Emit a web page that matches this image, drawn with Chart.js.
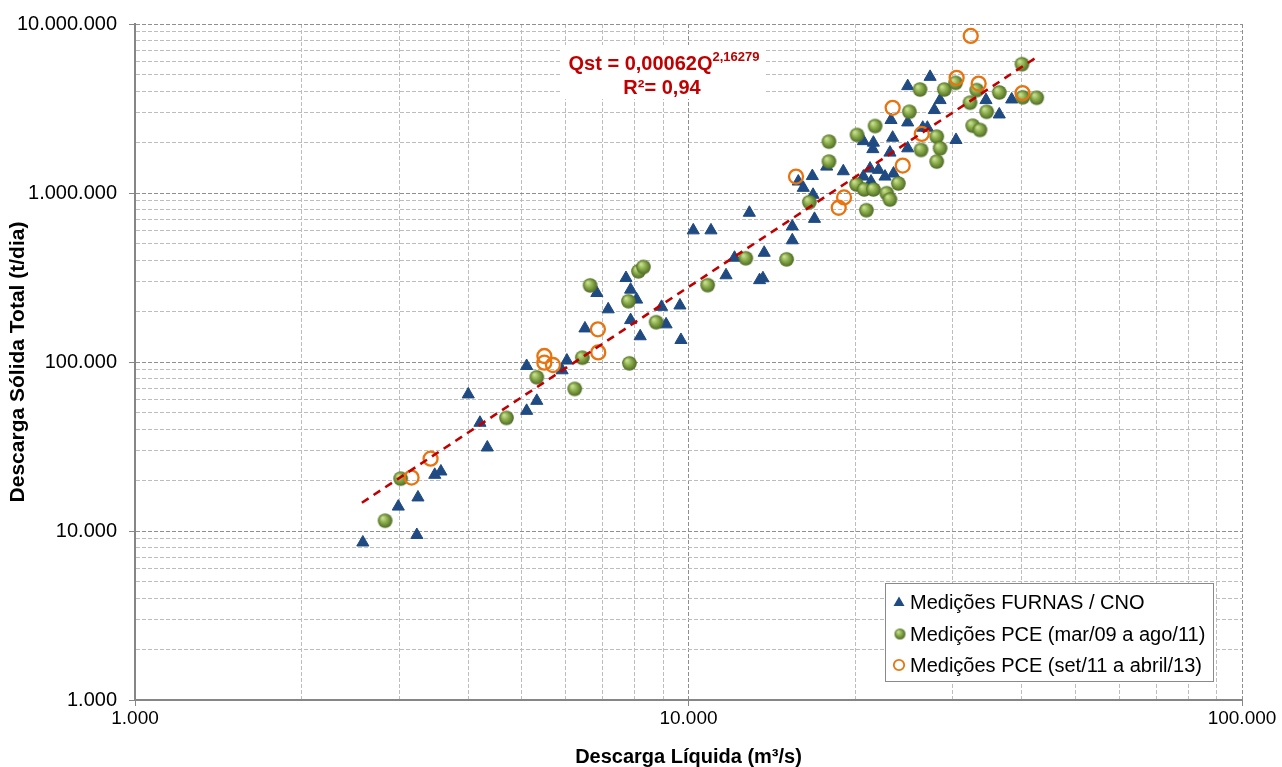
<!DOCTYPE html>
<html lang="pt-BR">
<head>
<meta charset="utf-8">
<title>Curva-chave de sedimentos</title>
<script src="https://cdn.jsdelivr.net/npm/chart.js@4.4.1/dist/chart.umd.min.js"></script>
<style>
  html, body { margin: 0; padding: 0; background: #fff; }
  #wrap { width: 1282px; height: 767px; }
</style>
</head>
<body>
<div id="wrap"><canvas id="curva" width="1282" height="767"></canvas></div>
<script>
// ── Medições FURNAS / CNO: Q (m³/s) x Qst (t/dia) ──
const furnasQ = [
  2580, 2990, 3230, 3245, 3480, 3570, 4000, 4200, 4330, 5100, 5320, 5100,
  6030, 5910, 6500, 6830, 7160, 7710, 7860, 8060, 7860, 8180, 8940, 9110,
  9650, 9690, 10200, 10980, 11690, 12110, 12880, 13440, 13630, 13700, 15400, 15400,
  16890, 16790, 16120, 15790, 16740, 17770, 19040, 20700, 21280, 22040, 21370, 22650,
  23460, 20700, 21580, 21530, 23380, 23220, 23120, 24890, 24890, 24890, 27320, 26500,
  27010, 27810, 28480, 30430, 34470, 36430, 38360
];
const furnasQst = [
  8550, 13950, 9470, 15800, 21500, 22500, 64300, 43700, 31200, 51400, 58900, 94700,
  102000, 89300, 158000, 256000, 205000, 314000, 268000, 234000, 177000, 142000, 212000, 167000,
  216000, 135000, 601000, 601000, 326000, 414000, 764000, 305000, 313000, 443000, 634000, 525000,
  703000, 976000, 1073000, 1169000, 1260000, 1433000, 1345000, 1251000, 1395000, 1371000, 1169000, 1251000,
  1303000, 2027000, 1986000, 1818000, 2125000, 2703000, 1734000, 2616000, 1838000, 4289000, 4867000, 2434000,
  2434000, 3096000, 3547000, 2060000, 3547000, 2916000, 3576000
];

// ── Medições PCE (mar/09 a ago/11) ──
const pceAQ = [
  2830, 3020, 4690, 5320, 6230, 6430, 7820, 6640, 7790, 8120, 8290, 8740,
  10830, 12690, 15040, 16530, 17940, 17940, 20160, 20120, 20770, 21580, 20960, 21730,
  22810, 23120, 23940, 25060, 26200, 28990, 30380, 33170, 36430, 32260, 34570, 32620,
  33620, 28080, 28480, 26310, 28080, 40040, 40160, 42570
];
const pceAQst = [
  11500, 20400, 46700, 81200, 69300, 106000, 98200, 284000, 229000, 344000, 365000, 172000,
  285000, 411000, 405000, 883000, 2013000, 1534000, 2205000, 1122000, 1049000, 1049000, 791000, 2491000,
  997000, 915000, 1138000, 3025000, 4096000, 4096000, 4486000, 4063000, 3933000, 3420000, 3025000, 2501000,
  2360000, 2154000, 1838000, 1798000, 1534000, 5783000, 3684000, 3659000
];

// ── Medições PCE (set/11 a abril/13) ──
const pceBQ = [
  3160, 3420, 5490, 5490, 5690, 6860, 6870, 15640, 19100, 18680, 23380, 24380,
  26390, 30510, 33440, 32350, 40130
];
const pceBQst = [
  20700, 26800, 108500, 99100, 96000, 156000, 114000, 1251000, 941000, 818000, 3193000, 1453000,
  2235000, 4800000, 4444000, 8495000, 3901000
];

// curva ajustada Qst = a·Q^b, traçada entre a menor e a maior vazão ajustada
const trendCoef = 0.00062;
const trendExp  = 2.16279;
const trendR2   = "0,94";
const trendQ    = [2570, 42300];

const legendLabels = [
  "Medições FURNAS / CNO",
  "Medições PCE (mar/09 a ago/11)",
  "Medições PCE (set/11 a abril/13)"
];

const FONT = "'Liberation Sans', Arial, Helvetica, sans-serif";
const BLUE = "#1F4A82";
const ORANGE = "#E8740F";
const RED = "#C00000";

const pts = (xs, ys) => xs.map((x, i) => ({ x, y: ys[i] }));
const trendPts = trendQ.map(q => ({ x: q, y: trendCoef * Math.pow(q, trendExp) }));

const isDecade = v => Math.abs(Math.log10(v) - Math.round(Math.log10(v))) < 1e-9;
const thousands = v => String(Math.round(v)).replace(/\B(?=(\d{3})+(?!\d))/g, ".");

function logTicks(min, max) {
  const out = [];
  for (let e = Math.round(Math.log10(min)); e < Math.round(Math.log10(max)); e++) {
    for (let m = 1; m < 10; m++) out.push({ value: m * Math.pow(10, e) });
  }
  out.push({ value: max });
  return out;
}

// esfera verde sombreada usada como marcador
function sphere(r) {
  const c = document.createElement("canvas");
  c.width = c.height = Math.ceil(r * 2 + 2);
  const g = c.getContext("2d");
  const m = c.width / 2;
  const grad = g.createRadialGradient(m - r * 0.35, m - r * 0.4, r * 0.1, m, m, r);
  grad.addColorStop(0, "#c6df92");
  grad.addColorStop(0.45, "#8cad4b");
  grad.addColorStop(1, "#4d6a25");
  g.fillStyle = grad;
  g.beginPath();
  g.arc(m, m, r, 0, Math.PI * 2);
  g.fill();
  return c;
}

const greenMark  = sphere(7.3);
const greenSmall = sphere(5.5);

const gridColor = ctx => (ctx.tick && isDecade(ctx.tick.value)) ? "#8f8f8f" : "#bdbdbd";
const tickColor = ctx => (ctx.tick && isDecade(ctx.tick.value)) ? "#868686" : "rgba(0,0,0,0)";

// equação da curva e legenda em caixas brancas
const boxes = {
  id: "boxes",
  afterDraw(chart) {
    const ctx = chart.ctx;
    ctx.save();

    // equação
    ctx.fillStyle = "#fff";
    ctx.fillRect(560, 45, 204, 54);
    ctx.fillStyle = RED;
    ctx.textBaseline = "alphabetic";
    const main = "Qst = " + String(trendCoef).replace(".", ",") + "Q";
    const sup  = String(trendExp).replace(".", ",");
    ctx.font = "bold 20px " + FONT;
    const w1 = ctx.measureText(main).width;
    ctx.font = "bold 13px " + FONT;
    const w2 = ctx.measureText(sup).width;
    const x0 = 664 - (w1 + w2) / 2;
    ctx.font = "bold 20px " + FONT;
    ctx.textAlign = "left";
    ctx.fillText(main, x0, 70);
    ctx.font = "bold 13px " + FONT;
    ctx.fillText(sup, x0 + w1, 61);
    ctx.font = "bold 20px " + FONT;
    ctx.textAlign = "center";
    ctx.fillText("R²= " + trendR2, 662, 94);

    // legenda
    ctx.fillStyle = "#fff";
    ctx.fillRect(885, 583, 328, 98);
    ctx.strokeStyle = "#8a8a8a";
    ctx.lineWidth = 1;
    ctx.strokeRect(885.5, 583.5, 328, 98);

    const rows = [602, 634, 665];
    const mx = 899;
    // triângulo
    ctx.fillStyle = BLUE;
    ctx.beginPath();
    ctx.moveTo(mx, rows[0] - 5.5);
    ctx.lineTo(mx + 5.5, rows[0] + 4);
    ctx.lineTo(mx - 5.5, rows[0] + 4);
    ctx.closePath();
    ctx.fill();
    // esfera
    ctx.drawImage(greenSmall, mx + 1 - greenSmall.width / 2, rows[1] - greenSmall.height / 2);
    // círculo vazado
    ctx.strokeStyle = ORANGE;
    ctx.lineWidth = 1.8;
    ctx.beginPath();
    ctx.arc(mx, rows[2], 5.2, 0, Math.PI * 2);
    ctx.stroke();

    ctx.fillStyle = "#000";
    ctx.font = "20px " + FONT;
    ctx.textAlign = "left";
    ctx.textBaseline = "middle";
    legendLabels.forEach((t, i) => ctx.fillText(t, 910, rows[i] + 1));
    ctx.restore();
  }
};

new Chart(document.getElementById("curva"), {
  type: "scatter",
  data: {
    datasets: [
      {
        label: "Curva ajustada",
        data: trendPts,
        showLine: true,
        borderColor: RED,
        borderWidth: 2.6,
        borderDash: [8, 6],
        pointRadius: 0,
        order: 0
      },
      {
        label: legendLabels[2],
        data: pts(pceBQ, pceBQst),
        pointStyle: "circle",
        pointRadius: 7,
        borderWidth: 2.3,
        borderColor: ORANGE,
        backgroundColor: "rgba(0,0,0,0)",
        order: 1
      },
      {
        label: legendLabels[1],
        data: pts(pceAQ, pceAQst),
        pointStyle: greenMark,
        pointRadius: 7,
        order: 2
      },
      {
        label: legendLabels[0],
        data: pts(furnasQ, furnasQst),
        pointStyle: "triangle",
        pointRadius: 7,
        borderWidth: 1,
        borderColor: BLUE,
        backgroundColor: BLUE,
        order: 3
      }
    ]
  },
  options: {
    responsive: false,
    animation: false,
    events: [],
    layout: { padding: { top: 22, right: 40, left: 0, bottom: 0 } },
    plugins: {
      legend: { display: false },
      tooltip: { enabled: false }
    },
    scales: {
      x: {
        type: "logarithmic",
        min: 1000,
        max: 100000,
        afterBuildTicks: s => { s.ticks = logTicks(1000, 100000); },
        afterFit: s => { s.height = 67; },
        grid: { color: gridColor, lineWidth: 1, tickLength: 6, tickColor: tickColor },
        border: { display: true, color: "#868686", width: 2, dash: [4, 2] },
        ticks: {
          autoSkip: false, maxRotation: 0, padding: 1, color: "#000",
          font: { family: FONT, size: 19 },
          callback: v => isDecade(v) ? thousands(v) : ""
        },
        title: {
          display: true, text: "Descarga Líquida (m³/s)", color: "#000",
          font: { family: FONT, size: 20, weight: "bold" },
          padding: { top: 0, bottom: -2 }
        }
      },
      y: {
        type: "logarithmic",
        min: 1000,
        max: 10000000,
        afterBuildTicks: s => { s.ticks = logTicks(1000, 10000000); },
        afterFit: s => { s.width = 135; },
        grid: { color: gridColor, lineWidth: 1, tickLength: 6, tickColor: tickColor },
        border: { display: true, color: "#868686", width: 2, dash: [4, 2] },
        ticks: {
          autoSkip: false, padding: 12, color: "#000",
          font: { family: FONT, size: 20 },
          callback: v => isDecade(v) ? thousands(v) : ""
        },
        title: {
          display: true, text: "Descarga Sólida Total (t/dia)", color: "#000",
          font: { family: FONT, size: 21, weight: "bold" },
          padding: { top: 6, bottom: 0 }
        }
      }
    }
  },
  plugins: [boxes]
});
</script>
</body>
</html>
